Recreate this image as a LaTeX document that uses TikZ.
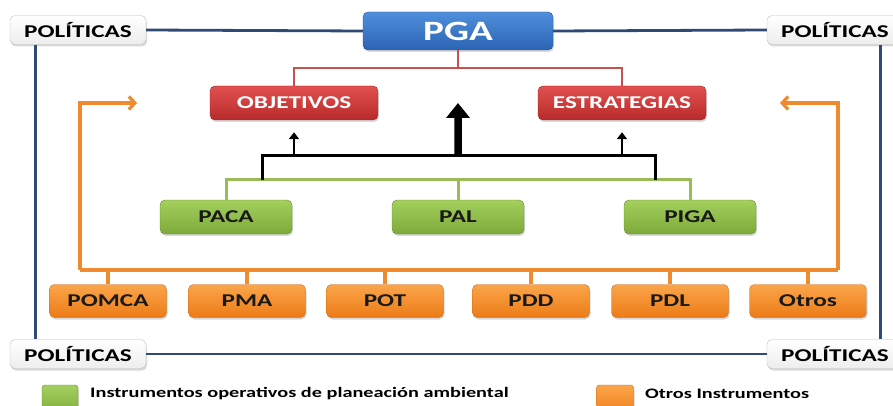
\documentclass[tikz,border=0pt]{standalone}
\usepackage{fontspec}
\setmainfont{Carlito}[FakeStretch=1.4]
\usetikzlibrary{arrows.meta,shadows,calc}
\definecolor{pgatop}{HTML}{4F8FDC}
\definecolor{pgabot}{HTML}{2C64B4}
\definecolor{pgaedge}{HTML}{24508F}
\definecolor{redtop}{HTML}{E25050}
\definecolor{redbot}{HTML}{B82B2B}
\definecolor{redwire}{HTML}{C85050}
\definecolor{grntop}{HTML}{A3CF5D}
\definecolor{grnbot}{HTML}{7DAA3A}
\definecolor{grnwire}{HTML}{9BBB59}
\definecolor{orgtop}{HTML}{FBA54A}
\definecolor{orgbot}{HTML}{EC7B17}
\definecolor{orgwire}{HTML}{F08A2E}
\definecolor{navy}{HTML}{2E4A75}
\tikzset{
  box/.style={rounded corners=5pt, inner sep=0pt,
    drop shadow={shadow xshift=1pt,shadow yshift=-2pt,opacity=.3}},
  pgabox/.style={box, minimum width=190pt, minimum height=38pt, top color=pgatop,
    bottom color=pgabot, draw=pgaedge, text=white, font={\fontsize{28}{30}\selectfont\bfseries}},
  polbox/.style={box, minimum width=136pt, minimum height=29pt, top color=white,
    bottom color=black!7, draw=black!25, font={\fontsize{18}{20}\selectfont\bfseries}},
  goalbox/.style={box, minimum width=168pt, minimum height=34pt, top color=redtop,
    bottom color=redbot, draw=redbot!80!black, text=white, font={\fontsize{18}{20}\selectfont\bfseries}},
  opbox/.style={box, minimum width=132pt, minimum height=34pt, top color=grntop,
    bottom color=grnbot, draw=grnbot!80!black, text=black!90, font={\fontsize{18}{20}\selectfont\bfseries}},
  otherbox/.style={box, minimum width=117pt, minimum height=33pt, top color=orgtop,
    bottom color=orgbot, draw=orgbot!85!black, text=black!90, font={\fontsize{18}{20}\selectfont\bfseries}},
  legtext/.style={anchor=west, inner sep=0pt, font={\fontsize{14.5}{16}\selectfont\bfseries}},
  navyline/.style={navy,line width=2.8pt},
  redline/.style={redwire,line width=2.6pt},
  grnline/.style={grnwire,line width=3pt},
  orgline/.style={orgwire,line width=3.2pt},
}
\begin{document}
\begin{tikzpicture}[x=1pt,y=-1pt]
  \useasboundingbox (0,0) rectangle (893,406);

  % top level
  \node[pgabox] (pga) at (458,31) {PGA};
  \node[polbox] (polTL) at (78,30) {POLÍTICAS};
  \node[polbox] (polTR) at (835,30) {POLÍTICAS};
  \node[polbox] (polBL) at (78,354) {POLÍTICAS};
  \node[polbox] (polBR) at (835,354) {POLÍTICAS};

  \node[goalbox] (obj) at (294,103) {OBJETIVOS};
  \node[goalbox] (est) at (622,103) {ESTRATEGIAS};

  \node[opbox] (paca) at (226,217) {PACA};
  \node[opbox] (pal) at (458,217) {PAL};
  \node[opbox] (piga) at (690,217) {PIGA};

  \node[otherbox] (pomca) at (108,301) {POMCA};
  \node[otherbox] (pma) at (247,301) {PMA};
  \node[otherbox] (pot) at (385,301) {POT};
  \node[otherbox] (pdd) at (531,301) {PDD};
  \node[otherbox] (pdl) at (670,301) {PDL};
  \node[otherbox] (otros) at (808,301) {Otros};

  % frame of policies
  \draw[navyline] (polTL.east) -- (pga.west) (pga.east) -- (polTR.west);
  \draw[navyline] (polBL.east) -- (polBR.west);
  \draw[navyline] ([xshift=26pt]polTL.south west) -- ([xshift=26pt]polBL.north west);
  \draw[navyline] ([xshift=114pt]polTR.south west) -- ([xshift=114pt]polBR.north west);

  % PGA to objetivos / estrategias
  \draw[redline] (pga.south) -- ++(0,18) coordinate (rj);
  \draw[redline] (obj.north) |- (rj) -| (est.north);

  % operative instruments
  \draw[grnline] (paca.north) -- ++(0,-20) -| (piga.north);
  \draw[grnline] (pal.north) -- ++(0,-20);
  \coordinate (bl) at (262,180);
  \coordinate (br) at (655,180);
  \draw[line width=3pt] (bl) -- ++(0,-24) -| (br);
  \draw[line width=2.4pt,-{Triangle[length=7pt,width=10pt]}] (obj.south |- bl) ++(0,-24) -- ([yshift=-12pt]obj.south);
  \draw[line width=2.4pt,-{Triangle[length=7pt,width=10pt]}] (est.south |- br) ++(0,-24) -- ([yshift=-12pt]est.south);
  \coordinate (up) at ($(obj.east)!0.5!(est.west)$);
  \draw[line width=7.5pt,-{Triangle[length=15pt,width=23pt]}] (pal.north) ++(0,-44) -- (up);

  % other instruments
  \coordinate (ol) at (80,270);
  \coordinate (or) at (838,270);
  \draw[orgline] (ol) -- (or);
  \foreach \n in {pomca,pma,pot,pdd,pdl,otros}
    \draw[orgline] (\n.north) -- ++(0,-15);
  \coordinate (al) at (137,103);
  \coordinate (ar) at (780,103);
  \draw[orgline,-{Straight Barb[length=6pt,width=13pt]}] (ol) |- (al);
  \draw[orgline,-{Straight Barb[length=6pt,width=13pt]}] (or) |- (ar);

  % legend
  \node[box, minimum width=36pt, minimum height=32pt, top color=grntop, bottom color=grnbot,
    draw=grnbot!80!black, rounded corners=3pt] (kop) at (60,401) {};
  \node[legtext] (kopt) at (90,394) {Instrumentos operativos de planeación ambiental};
  \node[box, minimum width=37pt, minimum height=32pt, top color=orgtop, bottom color=orgbot,
    draw=orgbot!85!black, rounded corners=3pt] (kot) at (615,401) {};
  \node[legtext] (kott) at (645,394) {Otros Instrumentos};
\end{tikzpicture}
\end{document}
